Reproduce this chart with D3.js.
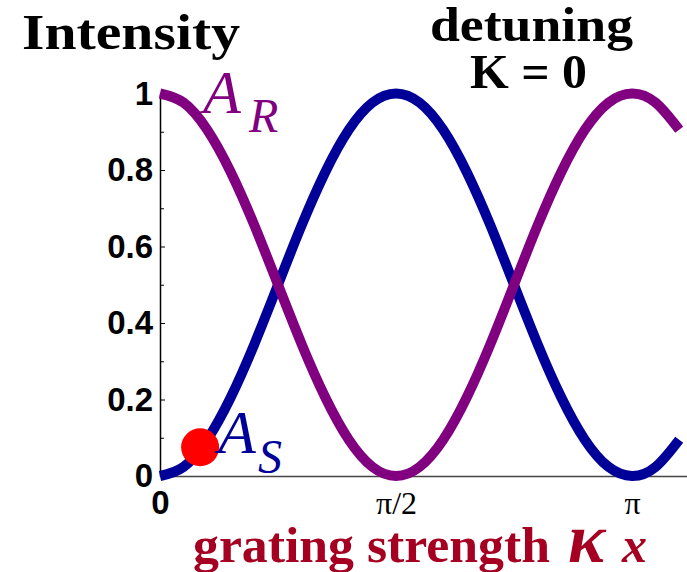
<!DOCTYPE html>
<html>
<head>
<meta charset="utf-8">
<script src="https://cdn.jsdelivr.net/npm/d3@7"></script>
<style>
  body { margin: 0; background: #fff; }
  svg { display: block; }
</style>
</head>
<body>
<svg id="chart" width="687" height="572"></svg>
<script>
// kx in units of pi
var kx = [0, 0.05, 0.10, 0.15, 0.20, 0.25, 0.30, 0.35, 0.40, 0.45, 0.50, 0.55,
          0.60, 0.65, 0.70, 0.75, 0.80, 0.85, 0.90, 0.95, 1.00, 1.05, 1.10];
// A_R (purple)
var aR = [1.000, 0.976, 0.905, 0.794, 0.655, 0.500, 0.345, 0.206, 0.095, 0.024, 0.000, 0.024,
          0.095, 0.206, 0.345, 0.500, 0.655, 0.794, 0.905, 0.976, 1.000, 0.976, 0.905];
// A_S (blue)
var aS = [0.000, 0.024, 0.095, 0.206, 0.345, 0.500, 0.655, 0.794, 0.905, 0.976, 1.000, 0.976,
          0.905, 0.794, 0.655, 0.500, 0.345, 0.206, 0.095, 0.024, 0.000, 0.024, 0.095];
var yTicks = [0, 0.2, 0.4, 0.6, 0.8, 1];
var yMinor = [0.1, 0.3, 0.5, 0.7, 0.9];
var xTicks = [0, 0.5, 1];
var xTickLabels = ["0", "\u03c0/2", "\u03c0"];
var dot = {kx: 0.085, v: 0.075};

var svg = d3.select("#chart");

var x = d3.scaleLinear().domain([0, 1.1165]).range([160, 687]);
var y = d3.scaleLinear().domain([0, 1]).range([476, 93.5]);

// x axis
var xAxis = svg.append("g")
  .attr("transform", "translate(0,476)")
  .call(d3.axisBottom(x).tickValues(xTicks).tickSize(0).tickPadding(15)
    .tickFormat(function (d, i) { return xTickLabels[i]; }));
xAxis.select(".domain").attr("stroke", "#444").attr("stroke-width", 1.5);
xAxis.selectAll("text")
  .attr("fill", "#000")
  .style("font-family", function (d) { return d === 0 ? "Liberation Sans, Arial, sans-serif" : "Liberation Serif, Times New Roman, serif"; })
  .style("font-weight", function (d) { return d === 0 ? "bold" : "normal"; })
  .style("font-size", function (d) { return d === 0 ? "33px" : "32px"; });

// y axis
var yAxis = svg.append("g")
  .attr("transform", "translate(160,0)")
  .call(d3.axisLeft(y).tickValues(yTicks).tickSize(-5).tickSizeOuter(0).tickPadding(7)
    .tickFormat(d3.format("~g")));
yAxis.select(".domain").attr("stroke", "#000").attr("stroke-width", 1.5);
yAxis.selectAll("text")
  .attr("fill", "#000")
  .style("font-family", "Liberation Sans, Arial, sans-serif")
  .style("font-weight", "bold")
  .style("font-size", "33px");

svg.append("g")
  .attr("transform", "translate(160,0)")
  .call(d3.axisLeft(y).tickValues(yMinor).tickSize(-4).tickSizeOuter(0).tickFormat(""))
  .call(function (g) { g.select(".domain").remove(); });

// curves
var line = function (vals) {
  return d3.line()
    .x(function (d, i) { return x(kx[i]); })
    .y(function (d) { return y(d); })
    .curve(d3.curveNatural)(vals);
};

svg.append("path").attr("d", line(aS))
  .attr("fill", "none").attr("stroke", "#000099").attr("stroke-width", 10);
svg.append("path").attr("d", line(aR))
  .attr("fill", "none").attr("stroke", "#800080").attr("stroke-width", 10);

svg.append("circle")
  .attr("cx", x(dot.kx)).attr("cy", y(dot.v)).attr("r", 19)
  .attr("fill", "#ff0000");

// labels
var serif = "Liberation Serif, Times New Roman, serif";

svg.append("text").attr("x", 22).attr("y", 49)
  .attr("textLength", 218).attr("lengthAdjust", "spacingAndGlyphs")
  .style("font-family", serif).style("font-weight", "bold").style("font-size", "51px")
  .text("Intensity");

svg.append("text").attr("x", 430).attr("y", 41)
  .attr("textLength", 203).attr("lengthAdjust", "spacingAndGlyphs")
  .style("font-family", serif).style("font-weight", "bold").style("font-size", "48px")
  .text("detuning");

svg.append("text").attr("x", 470).attr("y", 88)
  .attr("textLength", 117).attr("lengthAdjust", "spacingAndGlyphs")
  .style("font-family", serif).style("font-weight", "bold").style("font-size", "48px")
  .text("K = 0");

var sym = function (tx, ty, txt, size, color) {
  svg.append("text").attr("x", tx).attr("y", ty)
    .attr("fill", color)
    .style("font-family", serif).style("font-style", "italic").style("font-size", size + "px")
    .text(txt);
};
sym(203, 113, "A", 62, "#800080");
sym(249, 132, "R", 48, "#800080");
sym(218, 453, "A", 62, "#000099");
sym(258, 473, "S", 48, "#000099");

var xt = svg.append("text").attr("x", 193).attr("y", 562)
  .attr("fill", "#a50021")
  .style("font-family", serif).style("font-weight", "bold").style("font-size", "50px");
xt.append("tspan").attr("textLength", 357).attr("lengthAdjust", "spacingAndGlyphs")
  .text("grating strength");
xt.append("tspan").attr("x", 568).style("font-style", "italic").style("font-size", "70px").text("\u03ba");
xt.append("tspan").attr("x", 622).style("font-style", "italic").text("x");
</script>
</body>
</html>
